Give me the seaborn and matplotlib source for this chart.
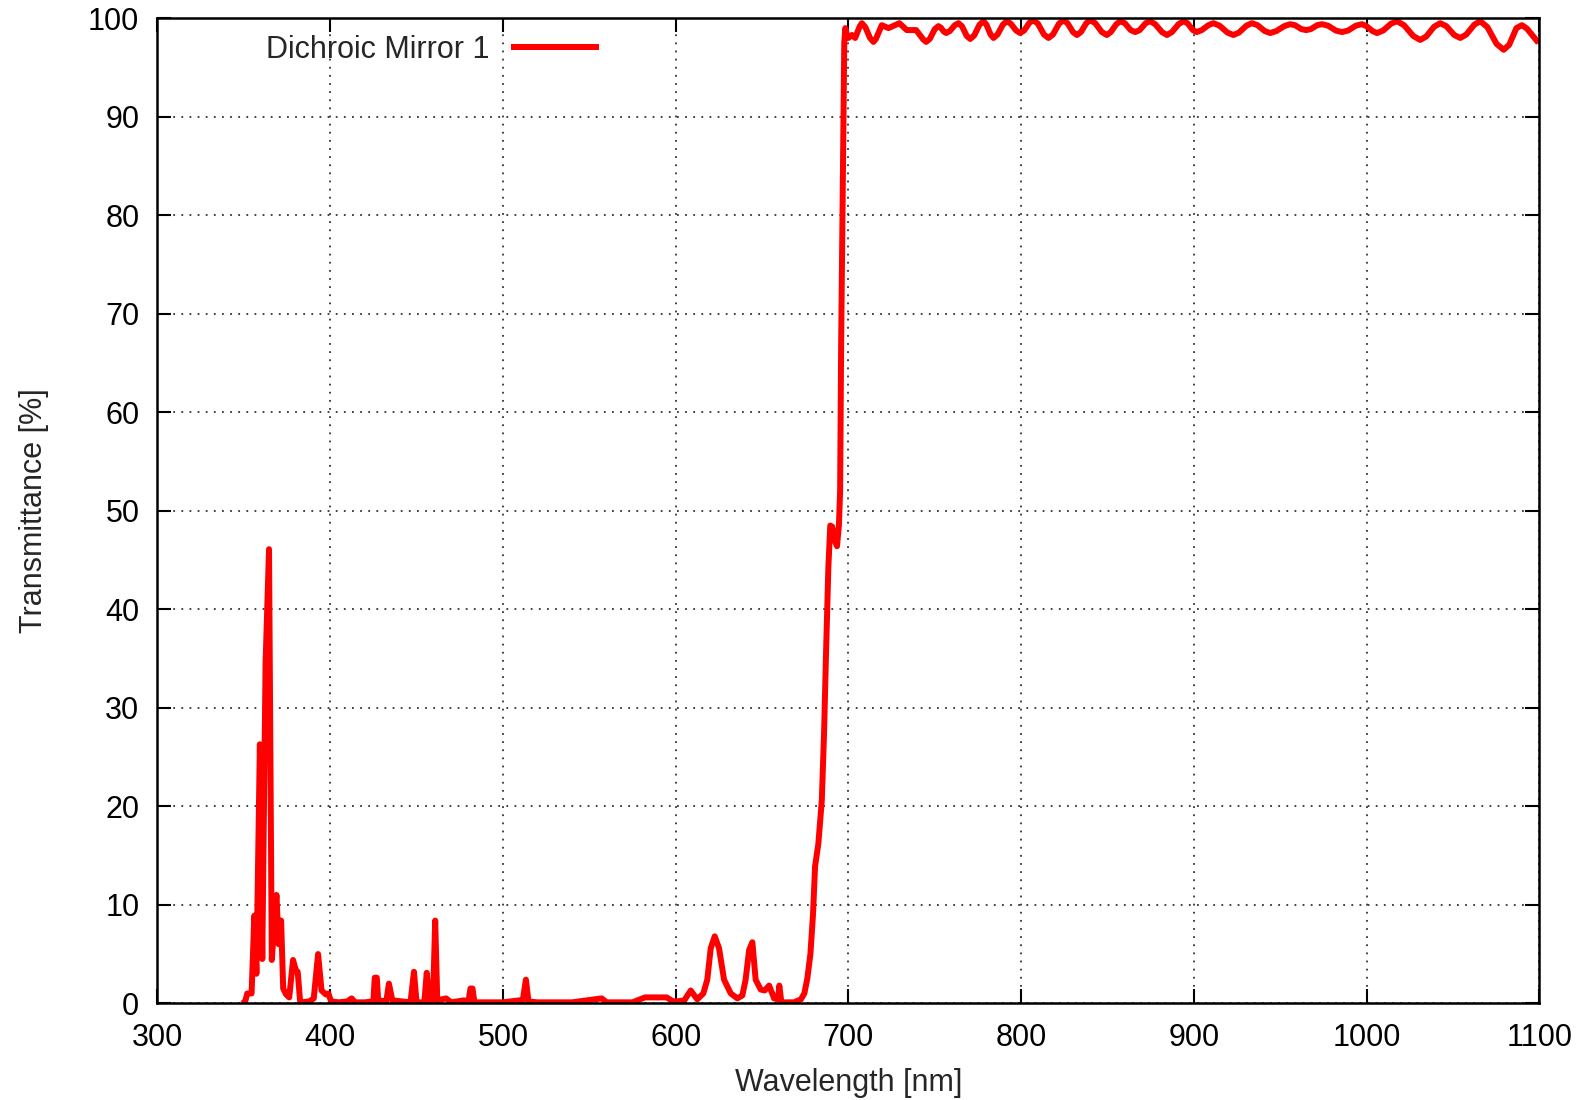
import matplotlib
matplotlib.use("Agg")
import matplotlib.pyplot as plt
import seaborn as sns
import pandas as pd

# ---- data ----
# blocking band and edge (349 - 699 nm)
wl_block = [
    349.5, 351.0, 352.0, 354.5, 356.1, 357.3, 359.3, 360.7, 362.6, 364.6,
    366.2, 368.9, 370.2, 371.6, 372.8, 374.5, 376.3, 378.5, 380.2, 381.2,
    382.6, 384.0, 388.0, 390.5, 393.0, 395.0, 397.5, 399.0, 400.5, 405.0,
    410.0, 412.4, 414.5, 420.0, 425.0, 425.8, 427.0, 427.8, 432.5, 434.0,
    436.0, 446.5, 448.5, 450.0, 454.5, 455.9, 457.5, 459.5, 460.8, 462.0,
    467.1, 470.0, 477.5, 480.0, 481.2, 482.4, 483.5, 500.0, 509.5, 511.5,
    513.3, 514.8, 520.0, 540.0, 557.2, 560.0, 575.0, 582.3, 588.0, 594.8,
    598.5, 601.0, 605.0, 608.7, 612.5, 616.0, 618.3, 620.3, 622.6, 625.1,
    628.0, 631.9, 635.7, 638.6, 640.5, 642.5, 644.4, 646.3, 649.2, 651.5,
    654.1, 657.0, 659.2, 660.0, 661.2, 665.0, 668.5, 672.5, 674.5, 676.2,
    678.0, 679.5, 680.7, 682.6, 684.6, 685.9, 687.1, 688.4, 689.5, 690.6,
    692.0, 693.4, 694.5, 695.2, 695.8, 696.8, 697.6, 698.2, 699.0,
]
t_block = [
    0.0, 0.3, 1.0, 1.0, 8.9, 3.0, 26.3, 4.5, 34.5, 46.1,
    4.4, 11.0, 6.0, 8.4, 1.5, 0.9, 0.6, 4.4, 3.3, 3.2,
    0.2, 0.1, 0.2, 0.5, 5.0, 1.3, 0.9, 1.0, 0.2, 0.1,
    0.2, 0.5, 0.1, 0.1, 0.2, 2.6, 2.6, 0.3, 0.2, 2.0,
    0.3, 0.1, 3.2, 0.1, 0.1, 3.1, 0.1, 0.2, 8.4, 0.3,
    0.5, 0.1, 0.3, 0.1, 1.5, 1.5, 0.1, 0.1, 0.3, 0.3,
    2.4, 0.2, 0.1, 0.1, 0.5, 0.1, 0.1, 0.6, 0.6, 0.6,
    0.2, 0.2, 0.3, 1.3, 0.4, 1.0, 2.4, 5.6, 6.8, 5.6,
    2.4, 1.0, 0.5, 0.8, 2.4, 5.4, 6.2, 2.4, 1.4, 1.3,
    1.8, 0.5, 0.4, 1.8, 0.1, 0.1, 0.1, 0.4, 1.0, 2.5,
    5.0, 9.0, 13.9, 16.2, 20.6, 27.4, 35.9, 44.3, 48.5, 48.4,
    47.0, 46.4, 48.5, 52.0, 67.0, 83.9, 97.5, 99.0, 98.4,
]
# pass band ripple (700 - 1100 nm)
wl_pass = [
    700.0, 702.0, 703.9, 706.6, 707.8, 709.8, 712.5, 714.5, 715.9, 719.3,
    723.2, 729.5, 733.8, 739.2, 743.3, 745.0, 747.1, 750.0, 752.1, 753.5,
    755.2, 756.6, 758.7, 761.6, 763.7, 765.7, 768.5, 770.5, 772.8, 775.9,
    778.2, 779.9, 782.3, 784.0, 786.3, 789.4, 791.7, 794.0, 797.1, 799.4,
    801.7, 804.8, 807.1, 809.7, 813.2, 815.8, 818.4, 821.9, 824.5, 826.8,
    830.0, 832.3, 834.6, 837.7, 840.0, 842.9, 846.7, 849.6, 851.9, 855.1,
    857.4, 860.0, 863.4, 866.0, 868.6, 872.1, 874.7, 877.6, 881.5, 884.4,
    887.3, 891.1, 894.0, 896.3, 899.4, 901.7, 904.6, 908.4, 911.3, 914.8,
    919.4, 922.9, 926.1, 930.4, 933.6, 936.8, 941.0, 944.2, 947.7, 952.3,
    955.7, 958.5, 962.2, 965.0, 967.7, 971.4, 974.1, 977.6, 982.2, 985.7,
    989.2, 993.8, 997.3, 999.9, 1003.4, 1006.0, 1009.5, 1014.1, 1017.6, 1021.6,
    1027.0, 1031.0, 1034.5, 1039.1, 1042.6, 1046.1, 1050.7, 1054.2, 1057.7, 1062.3,
    1065.8, 1069.9, 1075.2, 1079.3, 1082.5, 1086.7, 1089.9, 1092.8, 1099.5,
]
t_pass = [
    98.0, 98.3, 98.0, 99.2, 99.5, 99.1, 98.0, 97.6, 97.9, 99.3,
    99.0, 99.5, 98.8, 98.8, 97.85, 97.6, 97.9, 98.9, 99.2, 99.05,
    98.65, 98.5, 98.7, 99.3, 99.5, 99.2, 98.2, 97.9, 98.25, 99.35,
    99.7, 99.35, 98.35, 98.0, 98.35, 99.35, 99.7, 99.45, 98.75, 98.5,
    98.75, 99.55, 99.8, 99.45, 98.35, 98.0, 98.35, 99.45, 99.8, 99.5,
    98.6, 98.3, 98.6, 99.5, 99.8, 99.5, 98.6, 98.3, 98.6, 99.4,
    99.7, 99.5, 98.8, 98.6, 98.8, 99.5, 99.7, 99.4, 98.6, 98.3,
    98.6, 99.4, 99.7, 99.5, 98.8, 98.6, 98.8, 99.3, 99.5, 99.25,
    98.55, 98.3, 98.55, 99.25, 99.5, 99.3, 98.7, 98.5, 98.7, 99.2,
    99.4, 99.3, 98.9, 98.8, 98.9, 99.3, 99.4, 99.25, 98.75, 98.6,
    98.75, 99.25, 99.4, 99.2, 98.7, 98.5, 98.75, 99.45, 99.7, 99.3,
    98.2, 97.8, 98.15, 99.15, 99.5, 99.2, 98.3, 98.0, 98.35, 99.35,
    99.7, 99.1, 97.4, 96.8, 97.3, 99.0, 99.3, 98.95, 97.5,
]
series_label = "Dichroic Mirror 1"
x_ticks = [300, 400, 500, 600, 700, 800, 900, 1000, 1100]
y_ticks = [0, 10, 20, 30, 40, 50, 60, 70, 80, 90, 100]

df = pd.DataFrame({"Wavelength": wl_block + wl_pass,
                   "Transmittance": t_block + t_pass})

sns.set_style("ticks")
plt.rcParams["font.family"] = ["Liberation Sans", "DejaVu Sans"]
plt.rcParams["xtick.direction"] = "in"
plt.rcParams["ytick.direction"] = "in"

fig = plt.figure(figsize=(15.87, 11.0), dpi=100)
ax = fig.add_axes([0.0992, 0.0879, 0.8708, 0.8955])

sns.lineplot(data=df, x="Wavelength", y="Transmittance", ax=ax, color="#ff0000",
             linewidth=4.3, label=series_label, sort=False, estimator=None)
for ln in ax.lines:
    ln.set_solid_joinstyle("round")
    ln.set_solid_capstyle("butt")

ax.set_xlim(300, 1100)
ax.set_ylim(0, 100)
ax.set_xticks(x_ticks)
ax.set_yticks(y_ticks)
ax.tick_params(axis="both", which="major", labelsize=22, length=10, width=1.5,
               direction="in", top=True, right=True, colors="black")
ax.tick_params(axis="x", pad=14)
ax.tick_params(axis="y", pad=13)
ax.grid(True, color="#333333", linestyle=(0, (1, 3.5)), linewidth=1.3)
for s in ax.spines.values():
    s.set_visible(True)
    s.set_color("black")
    s.set_linewidth(1.8)

ax.set_xlabel("Wavelength [nm]", fontsize=22, labelpad=11)
ax.set_ylabel("Transmittance [%]", fontsize=22, labelpad=28)

leg = ax.legend(loc="center left", bbox_to_anchor=(0.063, 0.968), frameon=False,
                markerfirst=False, handlelength=2.9, fontsize=22,
                handletextpad=0.7, borderpad=0.2)

fig.savefig("out.png", dpi=100)
